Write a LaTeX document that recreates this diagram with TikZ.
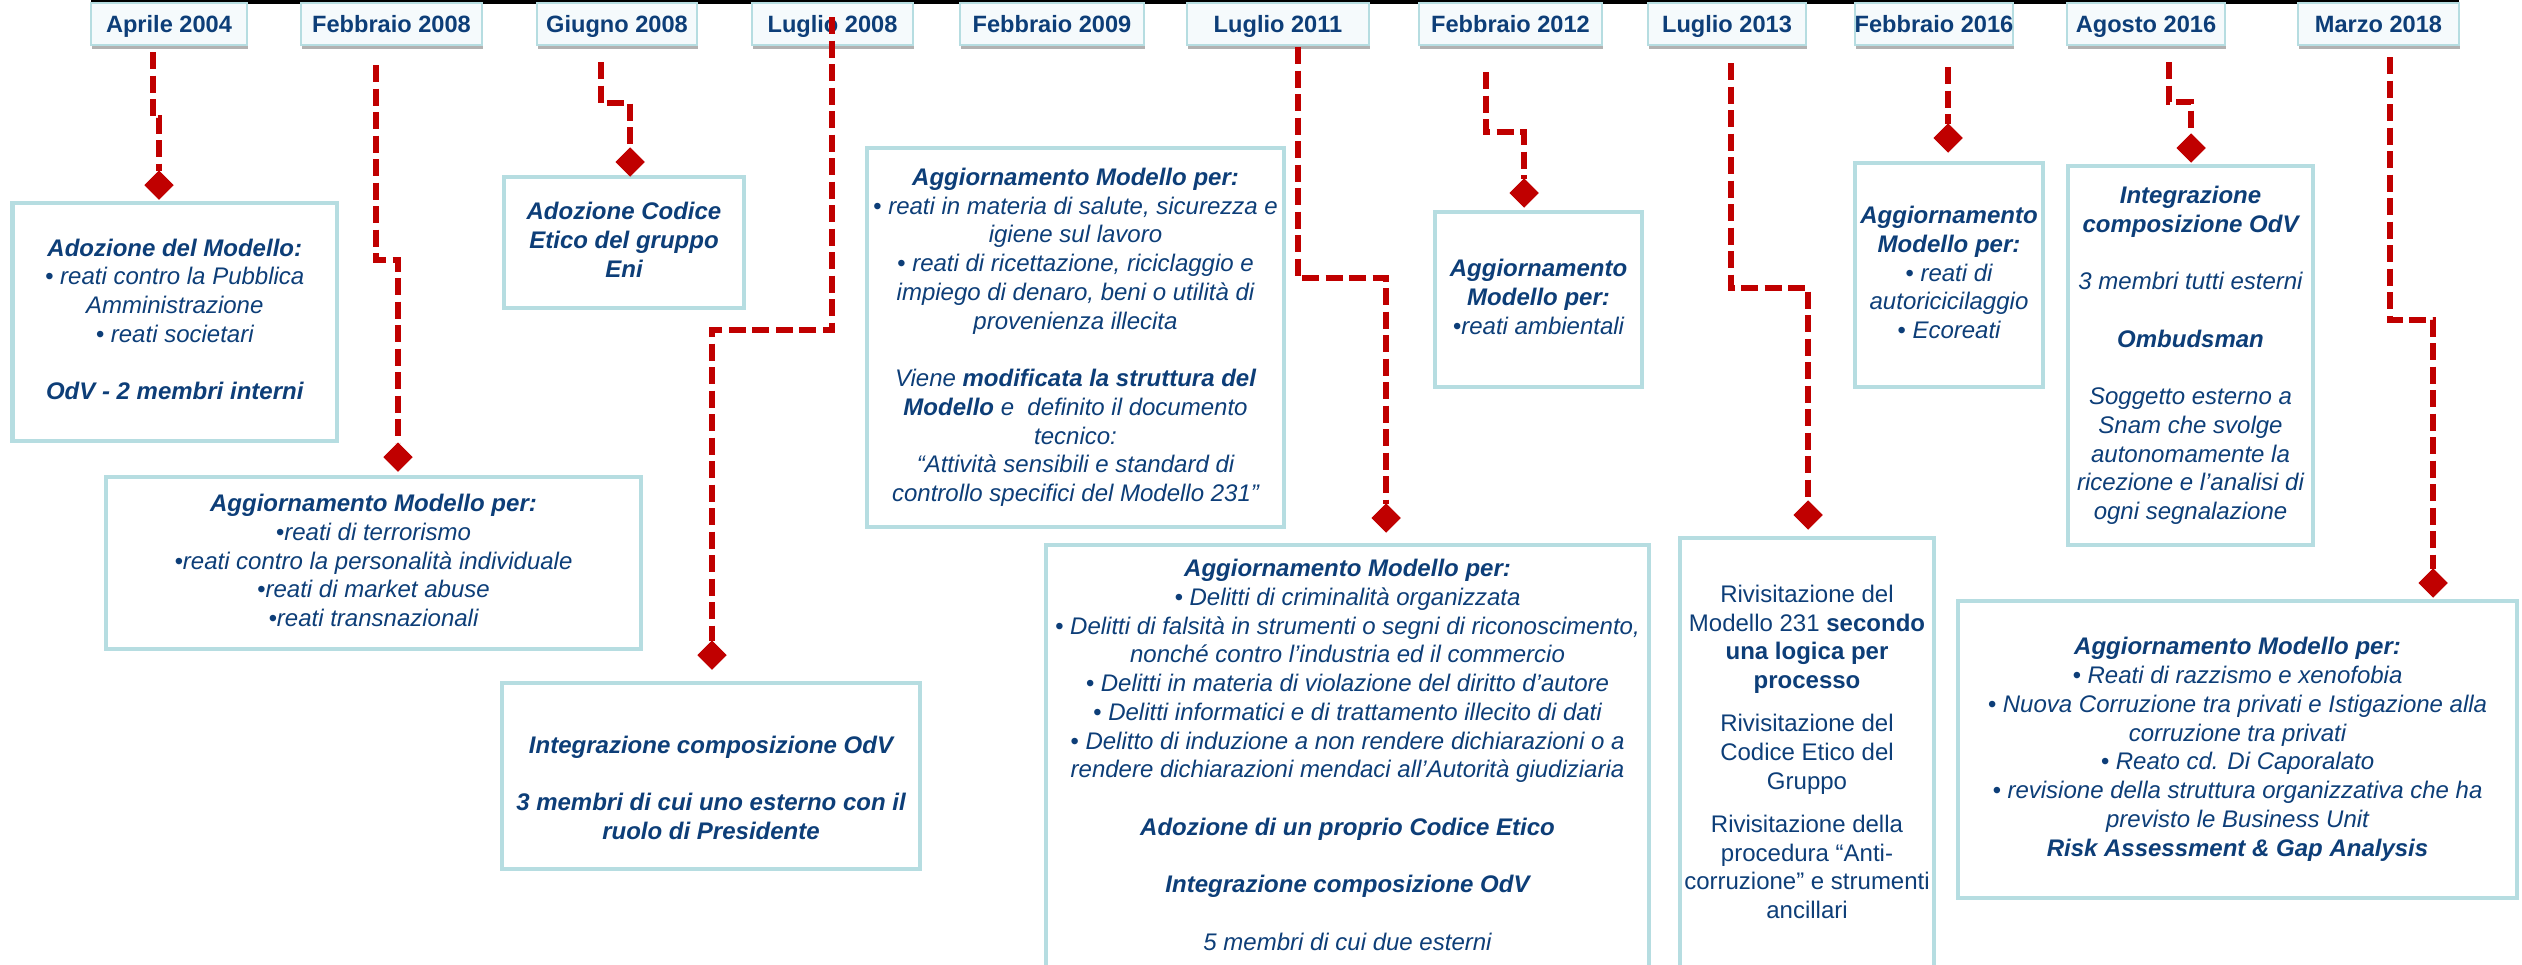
\documentclass[tikz,border=0pt]{standalone}
\usepackage{fontspec}
\setmainfont{Liberation Sans}
\usetikzlibrary{shapes.geometric,shadows}
\definecolor{tblue}{HTML}{0D3E78}
\definecolor{tborder}{HTML}{B6DDE1}
\definecolor{dfill}{HTML}{F5FAFC}
\definecolor{dred}{HTML}{C00000}
\newcommand{\stt}{\vrule height 17.5pt depth 5.5pt width 0pt}
\begin{document}
\begin{tikzpicture}[x=1pt,y=-1pt,
  datebox/.style={draw=tborder, line width=2pt, fill=dfill, inner sep=0pt,
    minimum height=42pt, text height=29.5pt, text depth=12.5pt,
    font=\fontsize{23.6}{27}\selectfont\bfseries, text=tblue,
    drop shadow={shadow xshift=1pt, shadow yshift=-4pt, fill=black, opacity=0.3}},
  cbox/.style={draw=tborder, line width=4.5pt, fill=white, inner sep=0pt,
    align=center, text=tblue, font=\fontsize{24}{28.75}\selectfont\itshape},
  ubox/.style={cbox, font=\fontsize{24}{28.75}\selectfont\upshape},
  dline/.style={draw=dred, line width=6.5pt, dash pattern=on 17pt off 6.5pt},
  dmd/.style={diamond, aspect=1, fill=dred, inner sep=0pt, outer sep=0pt,
    minimum width=29pt, minimum height=29pt},
]
\useasboundingbox (0,0) rectangle (2522,964);
\fill[white] (0,0) rectangle (2522,964);

% content boxes
\node[cbox, minimum width=324.5pt, minimum height=238pt] (b1) at (174.75,322) {%
\stt\textbf{Adozione del Modello:}\\
• reati contro la Pubblica\\
Amministrazione\\
• reati societari\\[28.75pt]
\textbf{OdV - 2 membri interni}\stt};

\node[cbox, minimum width=535pt, minimum height=172pt] (b2) at (373.5,563) {%
\stt\textbf{Aggiornamento Modello per:}\\
•reati di terrorismo\\
•reati contro la personalità individuale\\
•reati di market abuse\\
•reati transnazionali\stt};

\node[cbox, minimum width=240pt, minimum height=131pt] (b3) at (624,242.5) {%
\stt\textbf{Adozione Codice}\\
\textbf{Etico del gruppo}\\
\textbf{Eni}\stt};

\node[cbox, minimum width=418pt, minimum height=186pt] (b4) at (711,776) {%
\stt\\
\textbf{Integrazione composizione OdV}\\[28.75pt]
\textbf{3 membri di cui uno esterno con il}\\
\textbf{ruolo di Presidente}\stt};

\node[cbox, minimum width=417pt, minimum height=379pt] (b5) at (1075.5,337.5) {%
\stt\textbf{Aggiornamento Modello per:}\\
• reati in materia di salute, sicurezza e\\
igiene sul lavoro\\
• reati di ricettazione, riciclaggio e\\
impiego di denaro, beni o utilità di\\
provenienza illecita\\[28.75pt]
Viene \textbf{modificata la struttura del}\\
\textbf{Modello} e\ \ definito il documento\\
tecnico:\\
“Attività sensibili e standard di\\
controllo specifici del Modello 231”\stt};

\node[cbox, minimum width=603pt, minimum height=425pt] (b6) at (1347.5,757.5) {%
\stt\textbf{Aggiornamento Modello per:}\\
• Delitti di criminalità organizzata\\
• Delitti di falsità in strumenti o segni di riconoscimento,\\
nonché contro l’industria ed il commercio\\
• Delitti in materia di violazione del diritto d’autore\\
• Delitti informatici e di trattamento illecito di dati\\
• Delitto di induzione a non rendere dichiarazioni o a\\
rendere dichiarazioni mendaci all’Autorità giudiziaria\\[28.75pt]
\textbf{Adozione di un proprio Codice Etico}\\[28.75pt]
\textbf{Integrazione composizione OdV}\\[28.75pt]
5 membri di cui due esterni\stt};

\node[cbox, minimum width=207pt, minimum height=175pt] (b7) at (1538.5,299.5) {%
\stt\textbf{Aggiornamento}\\
\textbf{Modello per:}\\
•reati ambientali\stt};

\node[ubox, minimum width=254pt, minimum height=433pt] (b8) at (1807,754.5) {%
\stt Rivisitazione del\\
Modello 231 \textbf{secondo}\\
\textbf{una logica per}\\
\textbf{processo}\\[14.4pt]
Rivisitazione del\\
Codice Etico del\\
Gruppo\\[14.4pt]
Rivisitazione della\\
procedura “Anti-\\
corruzione” e strumenti\\
ancillari\stt};

\node[cbox, minimum width=188pt, minimum height=224pt] (b9) at (1949,275) {%
\stt\textbf{Aggiornamento}\\
\textbf{Modello per:}\\
• reati di\\
autoricicilaggio\\
• Ecoreati\stt};

\node[cbox, minimum width=245pt, minimum height=379pt] (b10) at (2190.5,355.5) {%
\stt\textbf{Integrazione}\\
\textbf{composizione OdV}\\[28.75pt]
3 membri tutti esterni\\[28.75pt]
\textbf{Ombudsman}\\[28.75pt]
Soggetto esterno a\\
Snam che svolge\\
autonomamente la\\
ricezione e l’analisi di\\
ogni segnalazione\stt};

\node[cbox, minimum width=559pt, minimum height=297pt] (b11) at (2237.5,749.5) {%
\stt\textbf{Aggiornamento Modello per:}\\
• Reati di razzismo e xenofobia\\
• Nuova Corruzione tra privati e Istigazione alla\\
corruzione tra privati\\
• Reato cd. Di Caporalato\\
• revisione della struttura organizzativa che ha\\
previsto le Business Unit\\
\textbf{Risk Assessment \& Gap Analysis}\stt};

% top black line
\fill[black] (91,0) rectangle (2459,3.5);

% date boxes
\node[datebox, minimum width=156pt] (t1) at (169,24) {Aprile 2004};
\node[datebox, minimum width=181pt] (t2) at (391.5,24) {Febbraio 2008};
\node[datebox, minimum width=160pt] (t3) at (617,24) {Giugno 2008};
\node[datebox, minimum width=161pt] (t4) at (832.5,24) {Luglio 2008};
\node[datebox, minimum width=184pt] (t5) at (1052,24) {Febbraio 2009};
\node[datebox, minimum width=182pt] (t6) at (1278,24) {Luglio 2011};
\node[datebox, minimum width=183pt] (t7) at (1510.5,24) {Febbraio 2012};
\node[datebox, minimum width=158pt] (t8) at (1727,24) {Luglio 2013};
\node[datebox, minimum width=158pt] (t9) at (1934,24) {Febbraio 2016};
\node[datebox, minimum width=158pt] (t10) at (2146,24) {Agosto 2016};
\node[datebox, minimum width=161pt] (t11) at (2378.5,24) {Marzo 2018};

% diamonds
\node[dmd] (m1) at (159,185) {};
\node[dmd] (m2) at (398,457) {};
\node[dmd] (m3) at (630,162) {};
\node[dmd] (m4) at (712,655) {};
\node[dmd] (m6) at (1386,518) {};
\node[dmd] (m7) at (1524,193) {};
\node[dmd] (m8) at (1808,515) {};
\node[dmd] (m9) at (1948,138) {};
\node[dmd] (m10) at (2191,148) {};
\node[dmd] (m11) at (2433,583) {};

% line starts
\coordinate (s1) at (153,52);
\coordinate (s2) at (376,65);
\coordinate (s3) at (601,62);
\coordinate (s4) at (832,17);
\coordinate (s6) at (1298,47);
\coordinate (s7) at (1486,72);
\coordinate (s8) at (1731,63);
\coordinate (s9) at (1948,67);
\coordinate (s10) at (2169,62);
\coordinate (s11) at (2390,57);

% connectors
\draw[dline] (s1) -- ++(0,66) -| (m1.north);
\draw[dline] (s2) -- ++(0,195) -| (m2.north);
\draw[dline] (s3) -- ++(0,41) -| (m3.north);
\draw[dline] (s4) -- ++(0,313) -| (m4.north);
\draw[dline] (s6) -- ++(0,231) -| (m6.north);
\draw[dline] (s7) -- ++(0,60) -| (m7.north);
\draw[dline] (s8) -- ++(0,225) -| (m8.north);
\draw[dline] (s9) -- (m9.north);
\draw[dline] (s10) -- ++(0,40) -| (m10.north);
\draw[dline] (s11) -- ++(0,263) -| (m11.north);

% redraw diamonds on top
\foreach \m in {m1,m2,m3,m4,m6,m7,m8,m9,m10,m11}{
  \fill[dred] (\m.north) -- (\m.east) -- (\m.south) -- (\m.west) -- cycle;
}
\end{tikzpicture}
\end{document}
